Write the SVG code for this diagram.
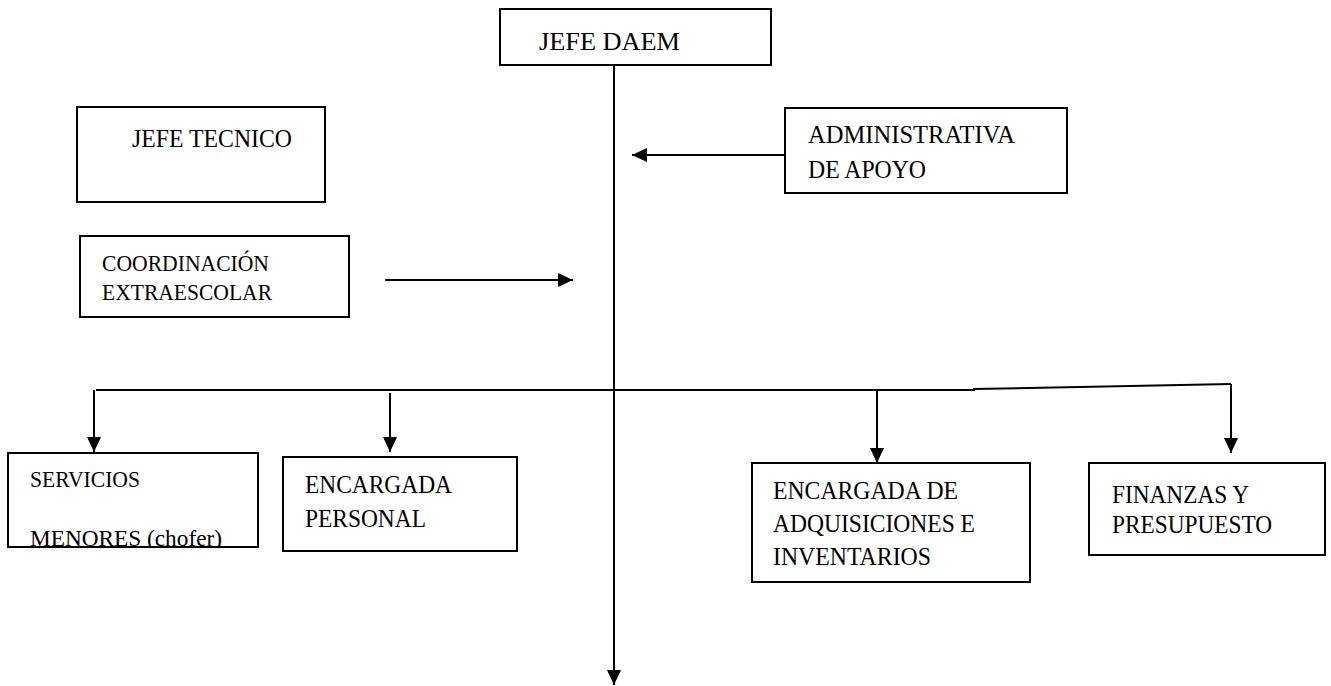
<svg xmlns="http://www.w3.org/2000/svg" width="1331" height="686" viewBox="0 0 1331 686">
<style>
.box{fill:#fff;stroke:#000;stroke-width:2}
.t{font-family:"Liberation Serif","Times New Roman",serif;font-size:26px;fill:#000}
.s{font-family:"Liberation Serif","Times New Roman",serif;font-size:23px;fill:#000}
.c{fill:none;stroke:#000;stroke-width:2}
</style>
<defs>
<marker id="ah" markerUnits="userSpaceOnUse" markerWidth="16" markerHeight="14" refX="15" refY="7" orient="auto">
<path d="M0,0 L15,7 L0,14 z" fill="#000"/>
</marker>
<clipPath id="clipSrv"><rect x="8" y="453" width="250" height="94"/></clipPath>
</defs>
<rect width="1331" height="686" fill="#fff"/>
<g id="connectors">
<line class="c" x1="614" y1="65" x2="614" y2="685" marker-end="url(#ah)"/>
<line class="c" x1="785" y1="155" x2="632" y2="155" marker-end="url(#ah)"/>
<line class="c" x1="385" y1="280" x2="573" y2="280" marker-end="url(#ah)"/>
<polyline class="c" points="96,390 975,390"/>
<polyline class="c" points="973,389 1231,384"/>
<line class="c" x1="94" y1="390" x2="94" y2="452" marker-end="url(#ah)"/>
<line class="c" x1="390" y1="393" x2="390" y2="452" marker-end="url(#ah)"/>
<line class="c" x1="877" y1="390" x2="877" y2="463" marker-end="url(#ah)"/>
<line class="c" x1="1231" y1="384" x2="1231" y2="453" marker-end="url(#ah)"/>
</g>
<g id="jefe-daem">
<rect class="box" x="500" y="9" width="271" height="56"/>
<text class="t" x="539" y="50" font-size="31" textLength="141" lengthAdjust="spacingAndGlyphs">JEFE DAEM</text>
</g>
<g id="jefe-tecnico">
<rect class="box" x="77" y="107" width="248" height="95"/>
<text class="t" x="132" y="147" font-size="28" textLength="160" lengthAdjust="spacingAndGlyphs">JEFE TECNICO</text>
</g>
<g id="administrativa">
<rect class="box" x="785" y="108" width="282" height="85"/>
<text class="t" x="808" y="143" textLength="207" lengthAdjust="spacingAndGlyphs">ADMINISTRATIVA</text>
<text class="t" x="808" y="178" textLength="118" lengthAdjust="spacingAndGlyphs">DE APOYO</text>
</g>
<g id="coordinacion">
<rect class="box" x="80" y="236" width="269" height="81"/>
<text class="s" x="102" y="271" textLength="167" lengthAdjust="spacingAndGlyphs">COORDINACIÓN</text>
<text class="s" x="102" y="300" textLength="170" lengthAdjust="spacingAndGlyphs">EXTRAESCOLAR</text>
</g>
<g id="servicios">
<rect class="box" x="8" y="453" width="250" height="94"/>
<g clip-path="url(#clipSrv)">
<text class="s" x="30" y="487" textLength="110" lengthAdjust="spacingAndGlyphs">SERVICIOS</text>
<text class="s" x="30" y="546" textLength="192" lengthAdjust="spacingAndGlyphs">MENORES (chofer)</text>
</g>
<line x1="8" y1="547" x2="258" y2="547" stroke="#000" stroke-width="2"/>
</g>
<g id="encargada-personal">
<rect class="box" x="283" y="457" width="234" height="94"/>
<text class="t" x="305" y="493" textLength="147" lengthAdjust="spacingAndGlyphs">ENCARGADA</text>
<text class="t" x="305" y="527" textLength="121" lengthAdjust="spacingAndGlyphs">PERSONAL</text>
</g>
<g id="encargada-adquisiciones">
<rect class="box" x="752" y="463" width="278" height="119"/>
<text class="t" x="773" y="499" textLength="185" lengthAdjust="spacingAndGlyphs">ENCARGADA DE</text>
<text class="t" x="773" y="532" textLength="202" lengthAdjust="spacingAndGlyphs">ADQUISICIONES E</text>
<text class="t" x="773" y="565" textLength="158" lengthAdjust="spacingAndGlyphs">INVENTARIOS</text>
</g>
<g id="finanzas">
<rect class="box" x="1089" y="463" width="236" height="92"/>
<text class="t" x="1112" y="503" textLength="137" lengthAdjust="spacingAndGlyphs">FINANZAS Y</text>
<text class="t" x="1112" y="533" textLength="160" lengthAdjust="spacingAndGlyphs">PRESUPUESTO</text>
</g>
</svg>
